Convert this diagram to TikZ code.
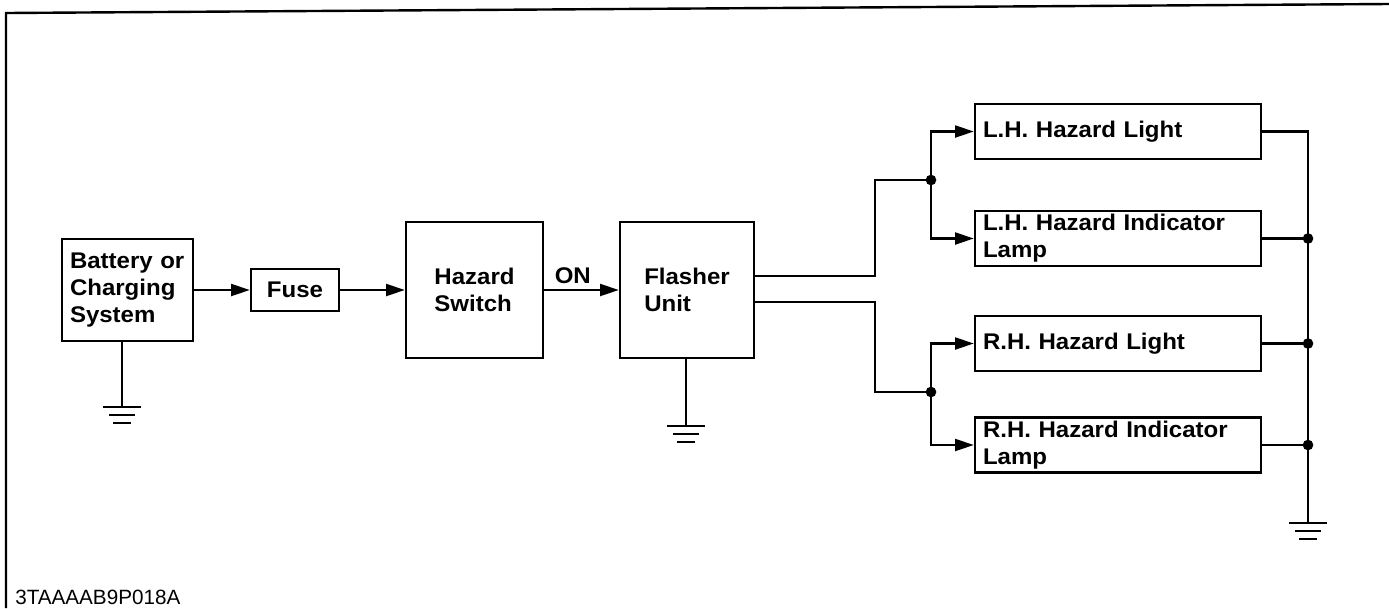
\documentclass[tikz,border=0pt]{standalone}
\usepackage{fontspec}
\setmainfont{Liberation Sans}
\newfontfamily\lblfont{Liberation Sans}[FakeStretch=1.06]
\usetikzlibrary{arrows.meta,calc}
\begin{document}
\begin{tikzpicture}[x=0.75pt,y=-0.75pt,
  lbl/.style={font=\lblfont\bfseries\fontsize{17}{20.25}\selectfont},
  box/.style={draw,line width=1.9pt,inner sep=0pt,lbl},
  rbox/.style={box,inner xsep=6pt,text width=202.5pt,align=left,minimum height=41.25pt},
  wire/.style={line width=1.6pt},
  arr/.style={wire,-{Triangle[length=14pt,width=9pt]}},
  jdot/.style={circle,fill,inner sep=0pt,minimum size=8pt},
  gnd/.pic={\draw[line width=1.8pt] (-19,0)--(19,0) (-13,8)--(13,8) (-9,16)--(9,16);}
]
\useasboundingbox (0,0) rectangle (1389,608);
% frame
\draw[line width=1.8pt] (6,608) -- (6,13) -- (1389,4);

% main boxes
\node[box,minimum width=131*0.75pt,minimum height=102*0.75pt,text width=115*0.75pt,align=left] (bat) at (127.5,290) {Battery or\\Charging\\System};
\node[box,minimum width=88*0.75pt,minimum height=42*0.75pt] (fuse) at (295,290) {Fuse};
\node[box,minimum width=137*0.75pt,minimum height=136*0.75pt,align=left] (hsw) at (474.5,290) {Hazard\\Switch};
\node[box,minimum width=134*0.75pt,minimum height=136*0.75pt,align=left] (fl) at (687,290) {Flasher\\Unit};

% lamp boxes
\node[rbox] (lhl) at (1118,131.5) {L.H. Hazard Light};
\node[rbox] (lhi) at (1118,238.5) {L.H. Hazard Indicator\\Lamp};
\node[rbox] (rhl) at (1118,343.5) {R.H. Hazard Light};
\node[rbox] (rhi) at (1118,445) {R.H. Hazard Indicator\\Lamp};

% coordinates
\coordinate (o1) at (754,276);
\coordinate (o2) at (754,302);
\coordinate (j1) at (931,180);
\coordinate (j2) at (931,392);
\coordinate (g1) at (122,407);
\coordinate (g2) at (686,426);
\coordinate (g3) at (1308,523);

% main chain
\draw[arr] (bat) -- (fuse);
\draw[arr] (fuse) -- (hsw);
\draw[arr] (hsw) -- node[lbl,pos=0,anchor=base west,xshift=3.75pt,yshift=5pt]{ON} (fl);

% flasher outputs
\draw[wire] (o1) -- (875,276) |- (j1);
\draw[wire] (o2) -- (875,302) |- (j2);
\draw[arr] (j1) |- (lhl.west);
\draw[arr] (j1) |- (lhi.west);
\draw[arr] (j2) |- (rhl.west);
\draw[arr] (j2) |- (rhi.west);
\node[jdot] at (j1) {};
\node[jdot] at (j2) {};

% return bus
\draw[wire] (lhl.east) -| (g3);
\foreach \n in {lhi,rhl,rhi}{
  \draw[wire] (\n.east) -- (\n.east -| g3);
  \node[jdot] at (\n.east -| g3) {};
}

% grounds
\draw[wire] (bat.south -| g1) -- (g1);
\draw[wire] (fl.south -| g2) -- (g2);
\pic at (g1) {gnd};
\pic at (g2) {gnd};
\pic at (g3) {gnd};

% figure code
\node[anchor=base west,inner sep=0pt,font=\fontsize{15.5}{18}\selectfont] (code) at (15,604) {3TAAAAB9P018A};
\end{tikzpicture}
\end{document}
